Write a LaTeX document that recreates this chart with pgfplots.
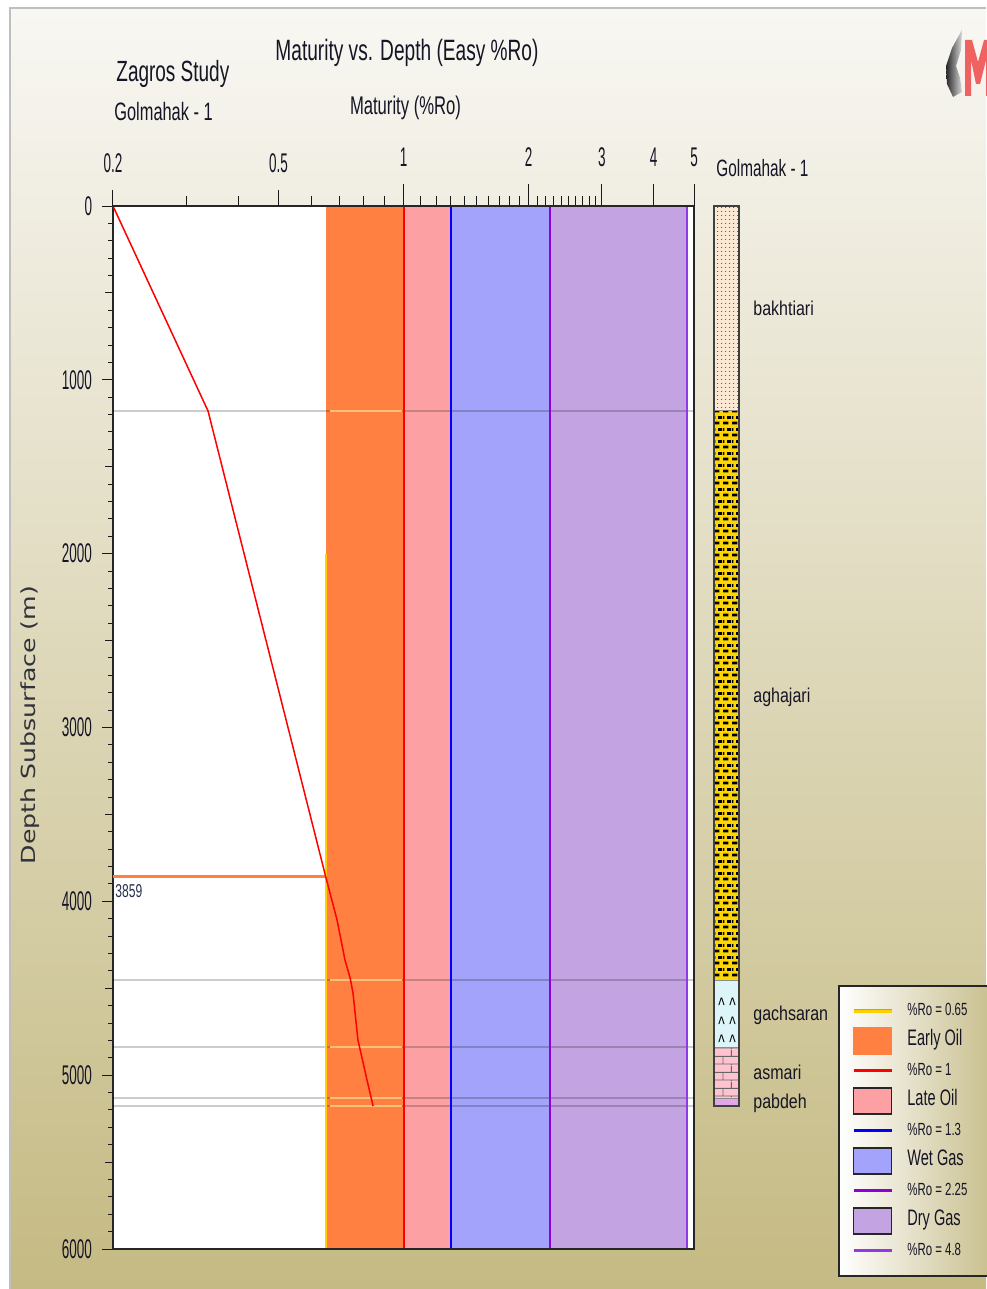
\documentclass[border=0pt]{standalone}
\usepackage{pgfplots}
\pgfplotsset{compat=1.18}
\usepackage{fontspec}
\setmainfont{Liberation Sans}[FakeStretch=0.65]
\newfontfamily\tickfont{Liberation Sans}[FakeStretch=0.5]
\newfontfamily\lithfont{Liberation Sans}[FakeStretch=0.8]
\newfontfamily\ylfont{DejaVu Sans}[FakeStretch=1.3]
\usetikzlibrary{patterns}

\definecolor{bgtop}{HTML}{F8F7F3}
\definecolor{bgbot}{HTML}{C5BA83}
\definecolor{legbg}{HTML}{C8BE8C}
\definecolor{earlyoil}{HTML}{FF8040}
\definecolor{lateoil}{HTML}{FCA0A3}
\definecolor{wetgas}{HTML}{A3A3FC}
\definecolor{drygas}{HTML}{C4A3E2}
\definecolor{l065}{HTML}{FFD000}
\definecolor{l1}{HTML}{FF0000}
\definecolor{l13}{HTML}{0000FF}
\definecolor{l225}{HTML}{8F00D6}
\definecolor{l48}{HTML}{9238E6}
\definecolor{hiyel}{HTML}{F4C27A}
\definecolor{c3859}{HTML}{FF7F3F}
\definecolor{lab3859}{HTML}{283250}
\definecolor{lithtan}{HTML}{FCE9D4}
\definecolor{lithyel}{HTML}{FFD500}
\definecolor{lithcyan}{HTML}{DDF5F9}
\definecolor{lithpink}{HTML}{FFC3D0}
\definecolor{lithvio}{HTML}{E3A6E6}
\definecolor{logored}{HTML}{F06262}
\definecolor{txt}{HTML}{151525}
\definecolor{ylab}{HTML}{30323C}

% lithology fills
\pgfdeclarepatternformonly{sanddots}{\pgfqpoint{0pt}{0pt}}{\pgfqpoint{2pt}{2pt}}{\pgfqpoint{2pt}{2pt}}{%
  \pgfpathcircle{\pgfqpoint{1pt}{1pt}}{0.33pt}\pgfusepath{fill}}
\pgfdeclarepatternformonly{congl}{\pgfqpoint{0pt}{0pt}}{\pgfqpoint{4.2pt}{6pt}}{\pgfqpoint{4.2pt}{6pt}}{%
  \pgfpathrectangle{\pgfqpoint{0pt}{0.3pt}}{\pgfqpoint{2.8pt}{1.5pt}}%
  \pgfpathrectangle{\pgfqpoint{2.1pt}{3.3pt}}{\pgfqpoint{2.1pt}{1.5pt}}%
  \pgfpathrectangle{\pgfqpoint{0pt}{3.3pt}}{\pgfqpoint{0.7pt}{1.5pt}}%
  \pgfusepath{fill}}
\pgfdeclarepatternformonly{brk}{\pgfqpoint{0pt}{0pt}}{\pgfqpoint{8.4pt}{8pt}}{\pgfqpoint{8.4pt}{8pt}}{%
  \pgfsetlinewidth{0.45pt}%
  \pgfpathmoveto{\pgfqpoint{0pt}{0.5pt}}\pgfpathlineto{\pgfqpoint{8.4pt}{0.5pt}}%
  \pgfpathmoveto{\pgfqpoint{0pt}{4.5pt}}\pgfpathlineto{\pgfqpoint{8.4pt}{4.5pt}}%
  \pgfpathmoveto{\pgfqpoint{0.5pt}{0.5pt}}\pgfpathlineto{\pgfqpoint{0.5pt}{4.5pt}}%
  \pgfpathmoveto{\pgfqpoint{4.7pt}{4.5pt}}\pgfpathlineto{\pgfqpoint{4.7pt}{8pt}}%
  \pgfpathmoveto{\pgfqpoint{4.7pt}{0pt}}\pgfpathlineto{\pgfqpoint{4.7pt}{0.5pt}}%
  \pgfusepath{stroke}}

\newcommand\lgs{\fontsize{8.8}{10}\selectfont}
\newcommand\lgb{\fontsize{11.2}{12}\selectfont}

\begin{document}
\begin{tikzpicture}
\path[use as bounding box] (0pt,0pt) rectangle (493pt,644.5pt);
\fill[white] (0pt,0pt) rectangle (493pt,644.5pt);
\shade[top color=bgtop, bottom color=bgbot] (5pt,0pt) rectangle (493pt,640.5pt);
\draw[black!25, line width=0.6pt] (5pt,0pt) -- (5pt,640.5pt) -- (493pt,640.5pt);
% logo
\shade[left color=black!85, right color=black!15]
  (481pt,629.5pt) -- (476pt,620.5pt) -- (473pt,611.5pt) -- (473.5pt,602.5pt) -- (476.5pt,596pt)
  -- (481pt,598.5pt) -- (480pt,605.5pt) -- (478pt,611.5pt) -- (480.5pt,619.5pt) -- cycle;
\fill[logored] (482.5pt,624.5pt) -- (486pt,624.5pt) -- (489pt,613.5pt) -- (492pt,624.5pt)
  -- (496pt,624.5pt) -- (496pt,596.5pt) -- (493pt,596.5pt) -- (493pt,614.5pt) -- (490pt,602.5pt)
  -- (488pt,602.5pt) -- (485.5pt,614.5pt) -- (485.5pt,596.5pt) -- (482.5pt,596.5pt) -- cycle;

% main chart
\begin{axis}[
  at={(56.5pt,20pt)}, anchor=south west,
  scale only axis, width=290.5pt, height=521.5pt,
  xmode=log, xmin=0.2, xmax=5,
  ymin=0, ymax=6000, y dir=reverse,
  xtick=\empty, minor x tick num=0,
  ytick={0,1000,2000,3000,4000,5000,6000},
  minor y tick num=9,
  extra y ticks={500,1500,2500,3500,4500,5500},
  extra y tick labels={{},{},{},{},{},{}},
  extra y tick style={major tick length=4pt},
  ytick pos=left, tick align=outside,
  major tick length=5.5pt, minor tick length=2.5pt,
  tick style={black!90, line width=0.5pt},
  axis line style={black!85, line width=0.6pt},
  axis background/.style={fill=white},
  yticklabel style={font=\tickfont\fontsize{13.5}{14}\selectfont, text=txt, xshift=-1.5pt},
  /pgf/number format/assume math mode=true,
  /pgf/number format/1000 sep={},
  clip mode=individual,
  legend style={at={(1.2478,0.2531)}, anchor=north west, draw=black!85, line width=0.8pt,
    left color=white, right color=legbg, inner xsep=6.5pt, inner ysep=5pt,
    row sep=0pt, column sep=7pt,
    nodes={inner sep=0pt, text height=10pt, text depth=5pt, text=txt}},
  legend cell align=left,
]
% maturity zones
\addplot[fill=earlyoil, draw=none, forget plot] coordinates {(0.65,0) (1,0) (1,6000) (0.65,6000)} -- cycle;
\addplot[fill=lateoil, draw=none, forget plot] coordinates {(1,0) (1.3,0) (1.3,6000) (1,6000)} -- cycle;
\addplot[fill=wetgas, draw=none, forget plot] coordinates {(1.3,0) (2.25,0) (2.25,6000) (1.3,6000)} -- cycle;
\addplot[fill=drygas, draw=none, forget plot] coordinates {(2.25,0) (4.8,0) (4.8,6000) (2.25,6000)} -- cycle;
% formation tops
\pgfplotsinvokeforeach{1179,4453,4839,5132,5178}{
  \addplot[black, opacity=0.2, line width=1pt, forget plot] coordinates {(0.2,#1) (5,#1)};
  \addplot[hiyel, line width=1pt, forget plot] coordinates {(0.665,#1) (0.99,#1)};
}
% %Ro boundaries
\addplot[l065, line width=1pt, forget plot] coordinates {(0.65,2000) (0.65,6000)};
\addplot[l1, line width=1pt, forget plot] coordinates {(1,0) (1,6000)};
\addplot[l13, line width=1pt, forget plot] coordinates {(1.3,0) (1.3,6000)};
\addplot[l225, line width=1pt, forget plot] coordinates {(2.25,0) (2.25,6000)};
\addplot[l48, line width=1pt, forget plot] coordinates {(4.8,0) (4.8,6000)};
% oil window top
\addplot[c3859, line width=1.6pt, forget plot] coordinates {(0.2,3859) (0.65,3859)};
\node[anchor=north west, inner sep=0pt, xshift=1pt, yshift=-3.5pt, text=lab3859,
  font=\fontsize{9.3}{10}\selectfont] at (axis cs:0.2,3859) {3859};
% Easy %Ro curve
\addplot[red, line width=0.75pt, forget plot] coordinates {
  (0.2,0) (0.3386,1179) (0.65,3859) (0.692,4107) (0.723,4337) (0.744,4441)
  (0.756,4527) (0.777,4798) (0.817,5028) (0.845,5178)};

% legend
\addlegendimage{legend image code/.code={\draw[l065, line width=1.8pt] (0pt,0pt) -- (19pt,0pt);
  \draw[earlyoil, line width=0.7pt] (0pt,0.6pt) -- (19pt,0.6pt);}}
\addlegendentry{\lgs\%Ro = 0.65\hspace*{7pt}}
\addlegendimage{legend image code/.code={\fill[earlyoil] (0pt,-6.5pt) rectangle (19pt,6.5pt);}}
\addlegendentry{\lgb Early Oil}
\addlegendimage{legend image code/.code={\draw[l1, line width=1.6pt] (0pt,0pt) -- (19pt,0pt);}}
\addlegendentry{\lgs\%Ro = 1}
\addlegendimage{legend image code/.code={\draw[black!85, line width=0.8pt, fill=lateoil] (0pt,-6.5pt) rectangle (19pt,6.5pt);}}
\addlegendentry{\lgb Late Oil}
\addlegendimage{legend image code/.code={\draw[l13, line width=1.6pt] (0pt,0pt) -- (19pt,0pt);}}
\addlegendentry{\lgs\%Ro = 1.3}
\addlegendimage{legend image code/.code={\draw[black!85, line width=0.8pt, fill=wetgas] (0pt,-6.5pt) rectangle (19pt,6.5pt);}}
\addlegendentry{\lgb Wet Gas}
\addlegendimage{legend image code/.code={\draw[l225, line width=1.6pt] (0pt,0pt) -- (19pt,0pt);}}
\addlegendentry{\lgs\%Ro = 2.25}
\addlegendimage{legend image code/.code={\draw[black!85, line width=0.8pt, fill=drygas] (0pt,-6.5pt) rectangle (19pt,6.5pt);}}
\addlegendentry{\lgb Dry Gas}
\addlegendimage{legend image code/.code={\draw[l48, line width=1.6pt] (0pt,0pt) -- (19pt,0pt);}}
\addlegendentry{\lgs\%Ro = 4.8}

% titles
\node[anchor=center, inner sep=0pt, text=txt, font=\fontsize{14.7}{16}\selectfont]
  at (axis description cs:0.506,1.1466) {Maturity vs. Depth (Easy \%Ro)};
\node[anchor=center, inner sep=0pt, text=txt, font=\fontsize{12.8}{14}\selectfont]
  at (axis description cs:0.5034,1.0939) {Maturity (\%Ro)};
\node[anchor=west, inner sep=0pt, text=txt, font=\fontsize{14.6}{16}\selectfont]
  at (axis description cs:0.0052,1.1265) {Zagros Study};
\node[anchor=west, inner sep=0pt, text=txt, font=\fontsize{12.6}{14}\selectfont]
  at (axis description cs:0.0017,1.0911) {Golmahak - 1};
\node[rotate=90, anchor=center, inner sep=0pt, text=ylab, font=\ylfont\fontsize{9.7}{11}\selectfont]
  at (axis description cs:-0.1429,0.5024) {Depth Subsurface (m)};
\end{axis}

% top maturity ticks
\begin{axis}[
  at={(56.5pt,20pt)}, anchor=south west,
  scale only axis, width=290.5pt, height=521.5pt,
  xmode=log, xmin=0.2, xmax=5, ymin=0, ymax=6000,
  hide y axis,
  xtick pos=right, xticklabel pos=right, tick align=outside,
  xtick={1,2,3,4,5}, xticklabels={1,2,3,4,5},
  extra x ticks={0.2,0.5}, extra x tick labels={0.2,0.5},
  extra x tick style={major tick length=8pt},
  minor xtick={0.3,0.4,0.6,0.7,0.8,0.9,1.1,1.2,1.3,1.4,1.5,1.6,1.7,1.8,1.9,2.1,2.2,2.3,2.4,2.5,2.6,2.7,2.8,2.9},
  major tick length=11pt, minor tick length=5pt,
  tick style={black!90, line width=0.5pt},
  axis line style={black!85, line width=0.6pt},
  xticklabel style={font=\tickfont\fontsize{13.5}{14}\selectfont, text=txt, yshift=5pt},
]
\end{axis}

% lithology column
\begin{axis}[
  at={(357pt,20pt)}, anchor=south west,
  scale only axis, width=12.5pt, height=521.5pt,
  xmin=0, xmax=1, ymin=0, ymax=6000, y dir=reverse,
  hide axis, clip=false,
]
\addplot[draw=none, fill=lithtan, postaction={pattern=sanddots, pattern color=black!75}]
  coordinates {(0,0) (1,0) (1,1179) (0,1179)} -- cycle;
\addplot[draw=none, fill=lithyel, postaction={pattern=congl, pattern color=black}]
  coordinates {(0,1179) (1,1179) (1,4453) (0,4453)} -- cycle;
\addplot[draw=none, fill=lithcyan]
  coordinates {(0,4453) (1,4453) (1,4839) (0,4839)} -- cycle;
\addplot[draw=none, fill=lithpink, postaction={pattern=brk, pattern color=black!60}]
  coordinates {(0,4839) (1,4839) (1,5132) (0,5132)} -- cycle;
\addplot[draw=none, fill=lithvio]
  coordinates {(0,5132) (1,5132) (1,5178) (0,5178)} -- cycle;
\addplot[only marks, mark=text, text mark={\fontsize{10.5}{10}\selectfont\textasciicircum},
  mark options={black!80}]
  coordinates {(0.3,4600) (0.74,4600) (0.3,4705) (0.74,4705) (0.3,4810) (0.74,4810)};
\pgfplotsinvokeforeach{1179,4453,4839,5132}{
  \addplot[black!45, line width=0.5pt] coordinates {(0,#1) (1,#1)};
}
\addplot[black!75, line width=0.7pt] coordinates {(0,0) (1,0) (1,5178) (0,5178)} -- cycle;
\node[anchor=west, inner sep=0pt, xshift=7pt, text=txt, font=\lithfont\fontsize{10}{12}\selectfont] at (axis cs:1,587) {bakhtiari};
\node[anchor=west, inner sep=0pt, xshift=7pt, text=txt, font=\lithfont\fontsize{10}{12}\selectfont] at (axis cs:1,2825) {aghajari};
\node[anchor=west, inner sep=0pt, xshift=7pt, text=txt, font=\lithfont\fontsize{10}{12}\selectfont] at (axis cs:1,4655) {gachsaran};
\node[anchor=west, inner sep=0pt, xshift=7pt, text=txt, font=\lithfont\fontsize{10}{12}\selectfont] at (axis cs:1,4983) {asmari};
\node[anchor=west, inner sep=0pt, xshift=7pt, text=txt, font=\lithfont\fontsize{10}{12}\selectfont] at (axis cs:1,5161) {pabdeh};
\node[anchor=west, inner sep=0pt, xshift=1pt, yshift=19pt, text=txt, font=\fontsize{11.8}{13}\selectfont]
  at (axis description cs:0,1) {Golmahak - 1};
\end{axis}
\end{tikzpicture}
\end{document}
